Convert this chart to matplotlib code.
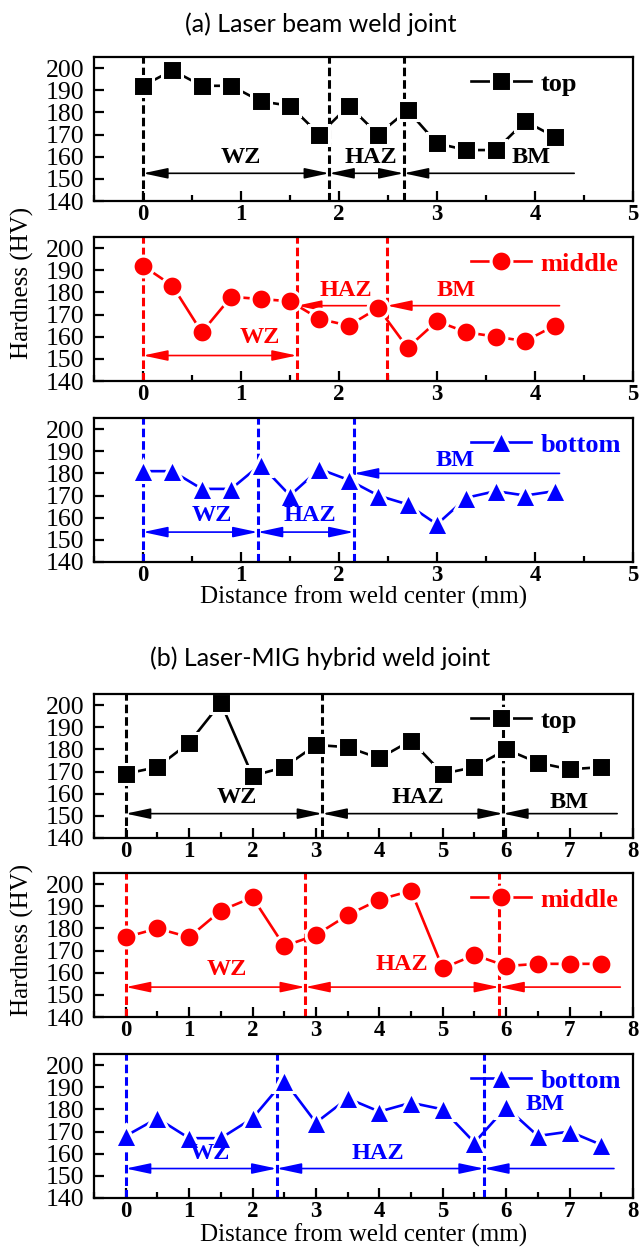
import matplotlib
matplotlib.use("Agg")
import matplotlib.pyplot as plt
from matplotlib.lines import Line2D

# ---- data ----
xa = [0, 0.3, 0.6, 0.9, 1.2, 1.5, 1.8, 2.1, 2.4, 2.7, 3.0, 3.3, 3.6, 3.9, 4.2]
a_top = [192, 199, 192, 192, 185, 183, 170, 183, 170, 181, 166, 163, 163, 176, 169]
a_mid = [192, 183, 162, 178, 177, 176, 168, 165, 173, 155, 167, 162, 160, 158, 165]
a_bot = [181, 181, 173, 173, 184, 170, 182, 177, 170, 166, 157, 169, 172, 170, 172]

xb = [0, 0.5, 1, 1.5, 2, 2.5, 3, 3.5, 4, 4.5, 5, 5.5, 6, 6.5, 7, 7.5]
b_top = [169, 172, 183, 201, 168, 172, 182, 181, 176, 184, 169, 172, 180, 174, 171, 172]
b_mid = [176, 180, 176, 188, 194, 172, 177, 186, 193, 197, 162, 168, 163, 164, 164, 164]
b_bot = [168, 176, 167, 167, 176, 193, 174, 185, 179, 183, 180, 165, 181, 168, 170, 164]

# zone boundaries (mm)
a_top_bounds = [0, 1.9, 2.66]
a_mid_bounds = [0, 1.57, 2.49]
a_bot_bounds = [0, 1.17, 2.15]
b_top_bounds = [0, 3.1, 5.95]
b_mid_bounds = [0, 2.83, 5.89]
b_bot_bounds = [0, 2.38, 5.65]

BLACK, RED, BLUE = "black", "#FF0000", "#0000FF"
SERIF = "Liberation Serif"
plt.rcParams["font.family"] = [SERIF, "DejaVu Serif"]

W, H = 641, 1256
fig = plt.figure(figsize=(W / 100, H / 100), dpi=100)


def make_ax(top_px, xmax):
    ax = fig.add_axes([94 / W, 1 - (top_px + 144) / H, 539 / W, 144 / H])
    ax.set_xlim(-0.5, xmax)
    ax.set_ylim(140, 205)
    yt = list(range(140, 201, 10))
    ax.set_yticks(yt, [str(v) for v in yt], fontsize=18.5)
    xt = list(range(0, int(xmax) + 1))
    ax.set_xticks(xt, [str(v) for v in xt], fontsize=16.5, fontweight="bold")
    ax.set_xticks([i + 0.5 for i in range(-1, int(xmax))], minor=True)
    for s in ax.spines.values():
        s.set_linewidth(1.6)
        s.set_zorder(5)
    ax.tick_params(which="both", direction="in", width=1.6, top=False, right=False)
    ax.tick_params(which="major", length=7)
    ax.tick_params(axis="x", which="major", pad=2)
    ax.tick_params(axis="y", which="major", pad=7)
    ax.tick_params(which="minor", length=4)
    return ax


def series(ax, x, y, color, marker, ms, label):
    ax.plot(x, y, color=color, lw=1.9, zorder=3)
    ax.plot(x, y, ls="none", marker=marker, ms=ms, mfc=color, mec="white",
            mew=2.2, zorder=4)
    h = Line2D([], [], color=color, lw=1.9, marker=marker, ms=ms, mfc=color,
               mec="white", mew=2.2)
    leg = ax.legend([h], [label], loc="upper left", bbox_to_anchor=(0.655, 1.06),
                    frameon=False, handlelength=2.3, handletextpad=0.35,
                    numpoints=1, prop={"family": SERIF, "weight": "bold", "size": 19})
    leg.set_zorder(6)
    for t in leg.get_texts():
        t.set_color(color)


def bounds(ax, b, color):
    for xv in b:
        ax.axvline(xv, color=color, lw=2.2, dashes=(2.8, 1.3), zorder=2)


def arrow(ax, x0, x1, y, color, both=True):
    style = "<|-|>" if both else "<|-"
    ax.annotate("", xy=(x1, y), xytext=(x0, y),
                arrowprops=dict(arrowstyle=style + ",head_length=0.75,head_width=0.16",
                                color=color, lw=1.2, shrinkA=0, shrinkB=0,
                                mutation_scale=20), zorder=2)


def zlabel(ax, x, y, s, color):
    ax.text(x, y, s, color=color, ha="center", va="center", family=SERIF,
            weight="bold", fontsize=17.5, zorder=5)


# ---------------- (a) laser beam ----------------
ax = make_ax(57, 5)
bounds(ax, a_top_bounds, BLACK)
series(ax, xa, a_top, BLACK, "s", 14, "top")
arrow(ax, a_top_bounds[0], a_top_bounds[1], 152.5, BLACK)
arrow(ax, a_top_bounds[1], a_top_bounds[2], 152.5, BLACK)
arrow(ax, a_top_bounds[2], 4.4, 152.5, BLACK, both=False)
zlabel(ax, 1.0, 159.5, "WZ", BLACK)
zlabel(ax, 2.32, 159.5, "HAZ", BLACK)
zlabel(ax, 3.96, 159.5, "BM", BLACK)

ax = make_ax(237, 5)
bounds(ax, a_mid_bounds, RED)
series(ax, xa, a_mid, RED, "o", 15, "middle")
arrow(ax, a_mid_bounds[0], a_mid_bounds[1], 151.5, RED)
arrow(ax, a_mid_bounds[1], a_mid_bounds[2], 174, RED, both=False)
arrow(ax, a_mid_bounds[2], 4.25, 174, RED, both=False)
zlabel(ax, 1.19, 159.5, "WZ", RED)
zlabel(ax, 2.07, 181, "HAZ", RED)
zlabel(ax, 3.19, 181, "BM", RED)

ax = make_ax(418, 5)
bounds(ax, a_bot_bounds, BLUE)
series(ax, xa, a_bot, BLUE, "^", 16, "bottom")
arrow(ax, a_bot_bounds[0], a_bot_bounds[1], 153.5, BLUE)
arrow(ax, a_bot_bounds[1], a_bot_bounds[2], 153.5, BLUE)
arrow(ax, a_bot_bounds[2], 4.25, 180, BLUE, both=False)
zlabel(ax, 0.70, 161, "WZ", BLUE)
zlabel(ax, 1.70, 161, "HAZ", BLUE)
zlabel(ax, 3.18, 186, "BM", BLUE)
ax.set_xlabel("Distance from weld center (mm)", family=SERIF, fontsize=18, labelpad=0)

# ---------------- (b) laser-MIG hybrid ----------------
ax = make_ax(694, 8)
bounds(ax, b_top_bounds, BLACK)
series(ax, xb, b_top, BLACK, "s", 14, "top")
arrow(ax, b_top_bounds[0], b_top_bounds[1], 151, BLACK)
arrow(ax, b_top_bounds[1], b_top_bounds[2], 151, BLACK)
arrow(ax, b_top_bounds[2], 7.75, 151, BLACK, both=False)
zlabel(ax, 1.76, 158.5, "WZ", BLACK)
zlabel(ax, 4.6, 158.5, "HAZ", BLACK)
zlabel(ax, 7.0, 156, "BM", BLACK)

ax = make_ax(873, 8)
bounds(ax, b_mid_bounds, RED)
series(ax, xb, b_mid, RED, "o", 15, "middle")
arrow(ax, b_mid_bounds[0], b_mid_bounds[1], 153.5, RED)
arrow(ax, b_mid_bounds[1], b_mid_bounds[2], 153.5, RED)
arrow(ax, b_mid_bounds[2], 7.8, 153.5, RED, both=False)
zlabel(ax, 1.6, 161.3, "WZ", RED)
zlabel(ax, 4.35, 163.6, "HAZ", RED)

ax = make_ax(1054, 8)
bounds(ax, b_bot_bounds, BLUE)
series(ax, xb, b_bot, BLUE, "^", 16, "bottom")
arrow(ax, b_bot_bounds[0], b_bot_bounds[1], 153.3, BLUE)
arrow(ax, b_bot_bounds[1], b_bot_bounds[2], 153.3, BLUE)
arrow(ax, b_bot_bounds[2], 7.7, 153.3, BLUE, both=False)
zlabel(ax, 1.32, 160, "WZ", BLUE)
zlabel(ax, 3.97, 160, "HAZ", BLUE)
zlabel(ax, 6.62, 182, "BM", BLUE)
ax.set_xlabel("Distance from weld center (mm)", family=SERIF, fontsize=18, labelpad=1)

# titles and shared y labels
fig.text(0.5, 1 - 24 / H, "(a) Laser beam weld joint", family="Lato", fontsize=18,
         ha="center", va="center")
fig.text(0.5, 1 - 658 / H, "(b) Laser-MIG hybrid weld joint", family="Lato",
         fontsize=18, ha="center", va="center")
fig.text(22 / W, 1 - 283 / H, "Hardness (HV)", family=SERIF, fontsize=18,
         rotation=90, ha="center", va="center")
fig.text(22 / W, 1 - 940 / H, "Hardness (HV)", family=SERIF, fontsize=18,
         rotation=90, ha="center", va="center")

fig.savefig("out.png", dpi=100)
